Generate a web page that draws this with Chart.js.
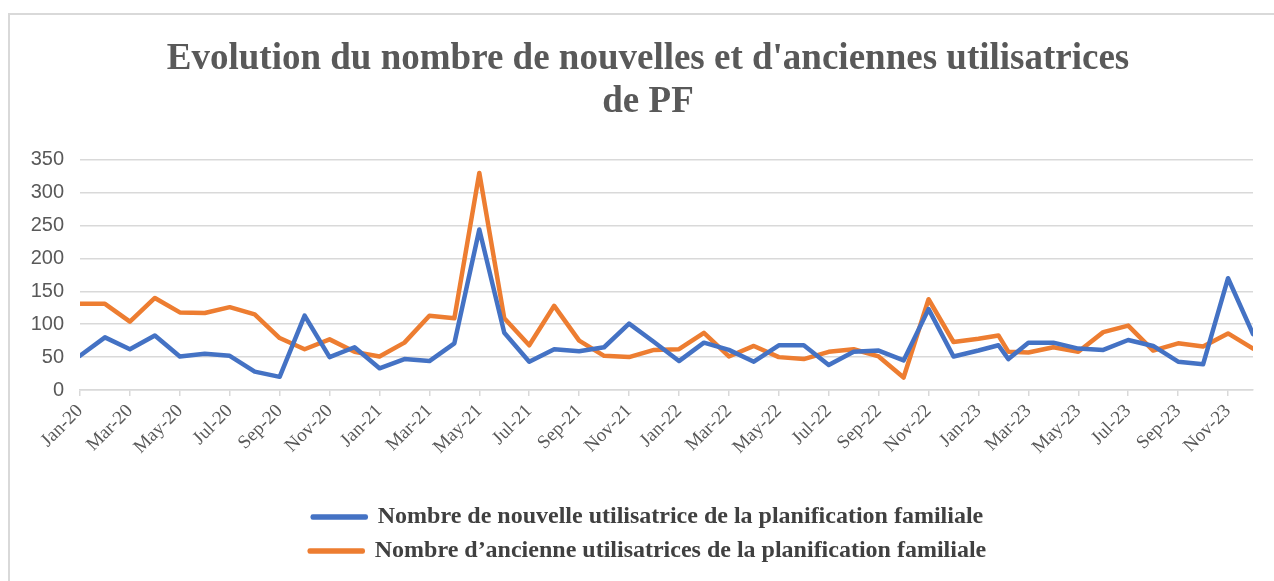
<!DOCTYPE html>
<html>
<head>
<meta charset="utf-8">
<script src="https://cdn.jsdelivr.net/npm/chart.js@4/dist/chart.umd.min.js"></script>
<style>
    html, body { margin: 0; padding: 0; background: #fff; overflow: hidden; }
    #frame { position: absolute; left: 8px; top: 13px; width: 1300px; height: 600px; border: 2px solid #d9d9d9; }
    #wrap { position: absolute; left: 0; top: 0; width: 1274px; height: 581px; }
</style>
</head>
<body>
<div id="frame"></div>
<div id="wrap"><canvas id="line-chart"></canvas></div>
<script>
// Position des mois (0 = Jan-20), fevrier 2023 a deux saisies
const moisPos = [0, 1, 2, 3, 4, 5, 6, 7, 8, 9, 10, 11, 12, 13, 14, 15, 16, 17, 18, 19, 20, 21, 22, 23,
    24, 25, 26, 27, 28, 29, 30, 31, 32, 33, 34, 35, 36, 36.8, 37.2, 38, 39, 40, 41, 42, 43, 44, 45, 46, 47];

const nouvelles = [52, 80, 62, 83, 51, 55, 52, 28, 20, 113, 50, 65, 33, 47, 44, 71, 244, 87, 43, 62, 59, 65, 101, 73,
    44, 72, 61, 43, 68, 68, 38, 58, 60, 45, 123, 51, 60, 68, 47, 72, 72, 63, 61, 76, 67, 43, 39, 170, 85];

const anciennes = [131, 131, 104, 140, 118, 117, 126, 115, 79, 62, 77, 58, 51, 72, 113, 109, 330, 109, 68, 128, 75, 52, 50, 61,
    62, 87, 51, 67, 50, 47, 58, 62, 51, 19, 138, 73, 78, 83, 58, 57, 65, 58, 88, 98, 60, 71, 66, 86, 63];

const tickLabels = ['Jan-20', 'Mar-20', 'May-20', 'Jul-20', 'Sep-20', 'Nov-20',
    'Jan-21', 'Mar-21', 'May-21', 'Jul-21', 'Sep-21', 'Nov-21',
    'Jan-22', 'Mar-22', 'May-22', 'Jul-22', 'Sep-22', 'Nov-22',
    'Jan-23', 'Mar-23', 'May-23', 'Jul-23', 'Sep-23', 'Nov-23'];

const titre = ["Evolution du nombre de nouvelles et d'anciennes utilisatrices", 'de PF'];
const labelNouvelles = 'Nombre de nouvelle utilisatrice de la planification familiale';
const labelAnciennes = 'Nombre d\u2019ancienne utilisatrices de la planification familiale';

const blue = '#4472C4';
const orange = '#ED7D31';
const grid = '#d9d9d9';
const textGrey = '#595959';

function toPoints(values) {
    return values.map((v, i) => ({ x: moisPos[i], y: v }));
}

var ctxLine = document.getElementById('line-chart');

var lineChart = new Chart(ctxLine, {
    type: 'line',
    data: {
        datasets: [{
                label: labelNouvelles,
                data: toPoints(nouvelles),
                borderColor: blue,
                backgroundColor: blue,
                borderWidth: 4.5,
                borderJoinStyle: 'round',
                borderCapStyle: 'round',
                pointRadius: 0,
                tension: 0
            },
            {
                label: labelAnciennes,
                data: toPoints(anciennes),
                borderColor: orange,
                backgroundColor: orange,
                borderWidth: 4.5,
                borderJoinStyle: 'round',
                borderCapStyle: 'round',
                pointRadius: 0,
                tension: 0
            }
        ]
    },
    options: {
        responsive: true,
        maintainAspectRatio: false,
        animation: false,
        layout: {
            padding: { top: 14, left: 22, right: 0, bottom: 8 }
        },
        plugins: {
            title: {
                display: true,
                text: titre,
                color: textGrey,
                font: { family: 'Liberation Serif', size: 37, weight: 'bold', lineHeight: 1.16 },
                padding: { top: 24, bottom: 36 }
            },
            legend: {
                position: 'bottom',
                labels: {
                    color: '#404040',
                    font: { family: 'Liberation Serif', size: 24, weight: 'bold' },
                    boxWidth: 53,
                    boxHeight: 1,
                    padding: 10
                }
            },
            tooltip: { enabled: false }
        },
        scales: {
            x: {
                type: 'linear',
                min: 0,
                max: 47,
                afterFit: (scale) => { scale.height = 105; },
                grid: {
                    drawOnChartArea: false,
                    drawTicks: true,
                    tickLength: 6,
                    color: grid,
                    lineWidth: 1.5
                },
                border: { color: grid, width: 1.5 },
                ticks: {
                    stepSize: 2,
                    includeBounds: false,
                    autoSkip: false,
                    minRotation: 45,
                    maxRotation: 45,
                    padding: 4,
                    color: textGrey,
                    font: { family: 'Liberation Serif', size: 19 },
                    callback: (value) => tickLabels[value / 2]
                }
            },
            y: {
                min: 0,
                max: 350,
                afterFit: (scale) => { scale.width = 58; },
                grid: { color: grid, lineWidth: 1.5, drawTicks: false },
                border: { display: false },
                ticks: {
                    stepSize: 50,
                    padding: 16,
                    color: textGrey,
                    font: { family: 'Liberation Sans', size: 20 }
                }
            },
            // marge droite vide pour garder le titre centre comme l'original
            yDroite: {
                position: 'right',
                afterFit: (scale) => { scale.width = 21; },
                grid: { display: false },
                border: { display: false },
                ticks: { display: false }
            }
        }
    }
});
</script>
</body>
</html>
